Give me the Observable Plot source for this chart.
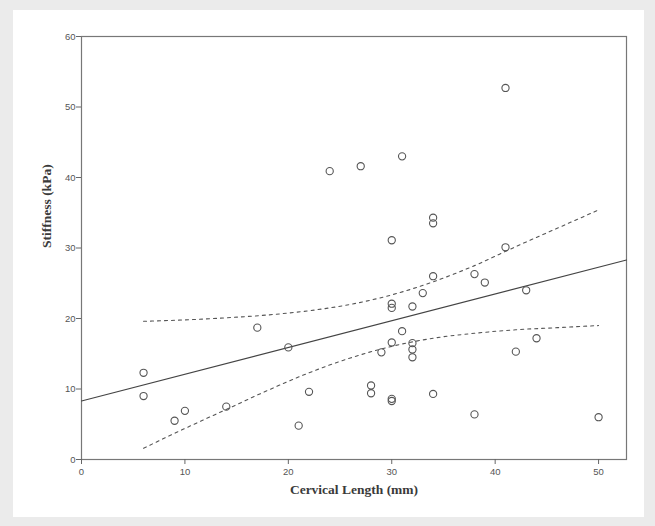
<!DOCTYPE html>
<html>
<head>
<meta charset="utf-8">
<script src="https://cdn.jsdelivr.net/npm/d3@7"></script>
<script src="https://cdn.jsdelivr.net/npm/@observablehq/plot@0.6"></script>
<style>
  html, body { margin: 0; padding: 0; }
  #outer { position: relative; width: 655px; height: 526px; background: #ebebeb; }
  #panel { position: absolute; left: 13px; top: 10px; width: 631px; height: 507px; background: #ffffff; }
  #chart { position: absolute; left: 0; top: 0; }
</style>
</head>
<body>
<div id="outer"><div id="panel"></div><div id="chart"></div></div>
<script>
const cervicalLength = [6,6,9,10,14,17,20,21,22,24,27,28,28,29,30,30,30,30,30,30,31,31,32,32,32,32,33,34,34,34,34,38,38,39,41,41,42,43,44,50];
const stiffness = [12.3,9.0,5.5,6.9,7.5,18.7,15.9,4.8,9.6,40.9,41.6,10.5,9.4,15.2,31.1,22.1,21.5,16.6,8.6,8.3,43.0,18.2,21.7,16.5,15.6,14.5,23.6,34.3,33.5,26.0,9.3,26.3,6.4,25.1,52.7,30.1,15.3,24.0,17.2,6.0];

const fitX = [0, 52.7];
const fitY = [8.3, 28.3];

const ciX = [6,10,14,18,22,26,30,34,38,42,46,50];
const ciUpper = [19.6,19.8,20.1,20.5,21.1,22.0,23.35,25.2,27.5,30.2,32.8,35.4];
const ciLower = [1.6,4.4,7.1,9.8,12.3,14.4,16.05,17.2,17.9,18.4,18.7,19.0];

const xTicks = [0,10,20,30,40,50];
const yTicks = [0,10,20,30,40,50,60];
const xTitle = "Cervical Length (mm)";
const yTitle = "Stiffness (kPa)";

const points = cervicalLength.map((x, i) => ({x, y: stiffness[i]}));
const fit = fitX.map((x, i) => ({x, y: fitY[i]}));
const upper = ciX.map((x, i) => ({x, y: ciUpper[i]}));
const lower = ciX.map((x, i) => ({x, y: ciLower[i]}));

const chart = Plot.plot({
  width: 655,
  height: 526,
  marginLeft: 81,
  marginRight: 29,
  marginTop: 36,
  marginBottom: 67,
  style: {background: "transparent", fontFamily: "Liberation Sans, Arial, sans-serif", fontSize: "9.5px", color: "#555"},
  x: {domain: [0, 52.7]},
  y: {domain: [0, 60]},
  marks: [
    Plot.frame({stroke: "#777", strokeWidth: 1.2}),
    Plot.axisX({ticks: xTicks, tickSize: 5, tickPadding: 4, label: null, stroke: "#666"}),
    Plot.axisY({ticks: yTicks, tickSize: 5, tickPadding: 1, label: null, stroke: "#666"}),
    Plot.line(upper, {x: "x", y: "y", curve: "monotone-x", stroke: "#555", strokeWidth: 1.1, strokeDasharray: "3,4"}),
    Plot.line(lower, {x: "x", y: "y", curve: "monotone-x", stroke: "#555", strokeWidth: 1.1, strokeDasharray: "3,4"}),
    Plot.line(fit, {x: "x", y: "y", stroke: "#444", strokeWidth: 1.1}),
    Plot.dot(points, {x: "x", y: "y", r: 3.6, stroke: "#555", strokeWidth: 1.1, fill: "none"}),
    Plot.text([xTitle], {frameAnchor: "bottom", dy: 34, text: d => d, fontFamily: "Liberation Serif, Times New Roman, serif", fontWeight: "bold", fontSize: 13.5, fill: "#3a3a3a"}),
    Plot.text([yTitle], {frameAnchor: "left", dx: -35, rotate: -90, text: d => d, fontFamily: "Liberation Serif, Times New Roman, serif", fontWeight: "bold", fontSize: 13.5, fill: "#3a3a3a"})
  ]
});
document.getElementById("chart").appendChild(chart);
</script>
</body>
</html>
